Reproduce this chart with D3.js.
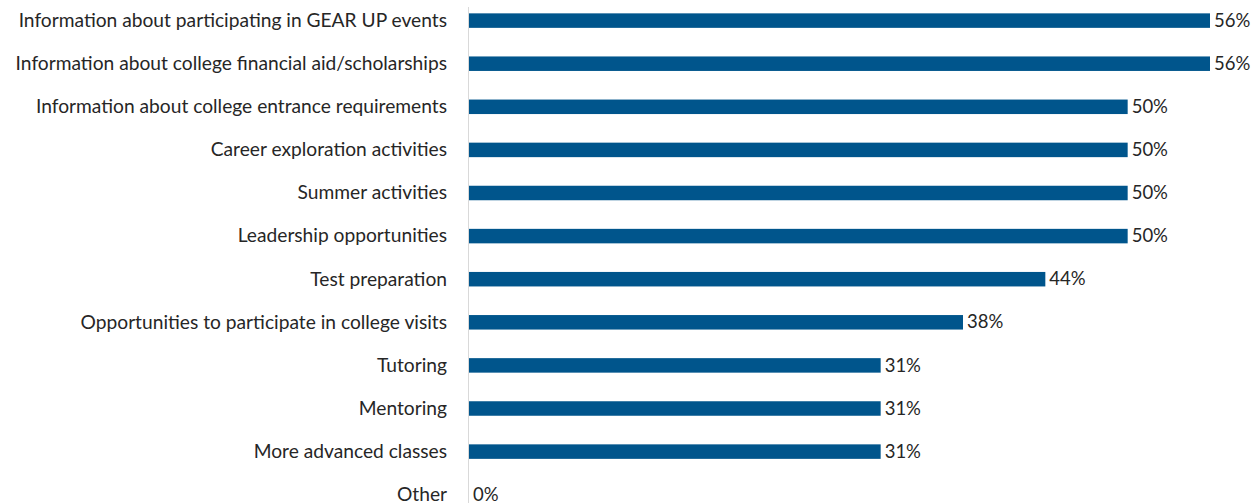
<!DOCTYPE html>
<html><head><meta charset="utf-8">
<script src="https://cdn.jsdelivr.net/npm/d3@7"></script>
<style>html,body{margin:0;padding:0;background:#fff;}svg{display:block;}</style>
</head><body>
<svg id="chart" width="1260" height="503"></svg>
<script>
const categories = [
  "Information about participating in GEAR UP events",
  "Information about college financial aid/scholarships",
  "Information about college entrance requirements",
  "Career exploration activities",
  "Summer activities",
  "Leadership opportunities",
  "Test preparation",
  "Opportunities to participate in college visits",
  "Tutoring",
  "Mentoring",
  "More advanced classes",
  "Other"
];
const values = [56.25, 56.25, 50, 50, 50, 50, 43.75, 37.5, 31.25, 31.25, 31.25, 0];
const valueLabels = ["56%","56%","50%","50%","50%","50%","44%","38%","31%","31%","31%","0%"];

const svg = d3.select("#chart");
const x0 = 468.5;
const x = d3.scaleLinear().domain([0, 56.25]).range([x0 + 0.5, 1210]);
const y = d3.scaleBand().domain(categories).range([-0.95, 516.25]).padding(0);
const barH = 14.5;
const font = "Lato, 'Open Sans', sans-serif";

svg.append("line")
  .attr("x1", x0).attr("x2", x0).attr("y1", 7).attr("y2", 503)
  .attr("stroke", "#d9d9d9").attr("stroke-width", 1);

const data = categories.map((c, i) => ({c, v: values[i], l: valueLabels[i]}));

svg.selectAll("rect.bar").data(data).join("rect")
  .attr("class", "bar")
  .attr("x", x(0))
  .attr("y", d => y(d.c) + y.bandwidth() / 2 - barH / 2)
  .attr("width", d => Math.max(0, x(d.v) - x(0)))
  .attr("height", barH)
  .attr("fill", "#00558c");

svg.selectAll("text.cat").data(data).join("text")
  .attr("class", "cat")
  .attr("x", 447)
  .attr("y", d => y(d.c) + y.bandwidth() / 2)
  .attr("dy", "0.33em")
  .attr("text-anchor", "end")
  .attr("font-family", font)
  .attr("font-size", "19.2px")
  .attr("fill", "#262626")
  .text(d => d.c);

svg.selectAll("text.val").data(data).join("text")
  .attr("class", "val")
  .attr("x", d => x(d.v) + 4)
  .attr("y", d => y(d.c) + y.bandwidth() / 2)
  .attr("dy", "0.33em")
  .attr("font-family", font)
  .attr("font-size", "18.5px")
  .attr("fill", "#262626")
  .text(d => d.l);
</script>
</body></html>
